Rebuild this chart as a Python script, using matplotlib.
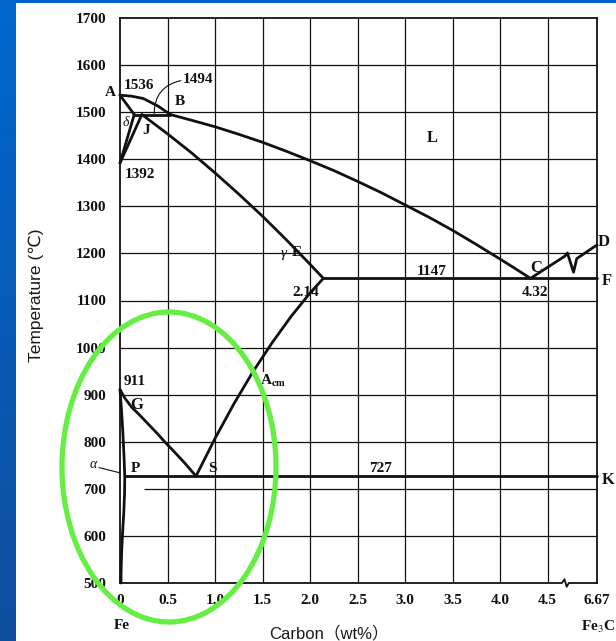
import numpy as np
import matplotlib
matplotlib.use("Agg")
import matplotlib.pyplot as plt
from matplotlib.patches import Ellipse, Rectangle

plt.rcParams["mathtext.fontset"] = "stix"

# ---------------- data ----------------
x_ticks = [0, 0.5, 1.0, 1.5, 2.0, 2.5, 3.0, 3.5, 4.0, 4.5, 6.67]
x_tick_labels = ["0", "0.5", "1.0", "1.5", "2.0", "2.5", "3.0", "3.5", "4.0", "4.5", "6.67"]
y_ticks = [500, 600, 700, 800, 900, 1000, 1100, 1200, 1300, 1400, 1500, 1600, 1700]

# liquidus A-B and B-C
liq_ab_x = [0, 0.12, 0.245, 0.4, 0.53]
liq_ab_t = [1536, 1534, 1529, 1513, 1495]
liq_bc_x = [0.53, 0.75, 1.0, 1.25, 1.5, 1.75, 2.0, 2.25, 2.5, 2.75, 3.0, 3.25,
            3.5, 3.75, 4.0, 4.15, 4.32]
liq_bc_t = [1495, 1483, 1469, 1453, 1436, 1417, 1397, 1376, 1353, 1329, 1303, 1277,
            1249, 1219, 1188, 1169, 1147]
# C-D (with break symbol)
cd_x = [4.32, 5.25, 5.37, 5.64, 5.78, 6.67]
cd_t = [1147, 1194, 1201, 1160, 1189, 1218]
# delta region
ah_x, ah_t = [0, 0.15], [1536, 1495]
hjb_x, hjb_t = [0.15, 0.53], [1495, 1495]
nh_x, nh_t = [0, 0.15], [1392, 1495]
nj_x, nj_t = [0, 0.23], [1392, 1495]
# solidus J-E
je_x = [0.23, 0.5, 0.75, 1.0, 1.25, 1.5, 1.75, 2.0, 2.14]
je_t = [1495, 1454, 1414, 1371, 1326, 1279, 1229, 1177, 1147]
# eutectic line E-C-F
ecf_x, ecf_t = [2.14, 6.67], [1147, 1147]
# G-S and E-S (Acm)
gs_x = [0, 0.05, 0.12, 0.21, 0.3, 0.39, 0.47, 0.56, 0.68, 0.8]
gs_t = [911, 893, 874, 856, 837, 818, 800, 781, 755, 727]
es_x = [0.8, 1.0, 1.2, 1.4, 1.6, 1.8, 2.0, 2.14]
es_t = [727, 807, 881, 949, 1010, 1066, 1116, 1147]
# G-P-Q
gpq_x = [0, 0.015, 0.03, 0.042, 0.05, 0.048, 0.04, 0.028, 0.018, 0.012, 0.01]
gpq_t = [911, 870, 820, 770, 727, 690, 650, 610, 570, 530, 500]
# eutectoid line P-S-K
psk_x, psk_t = [0.05, 6.67], [727, 727]
# bottom axis break
brk_x = [0, 5.13, 5.24, 5.34, 5.43, 6.67]
brk_t = [500, 500, 508, 492, 500, 500]

grid_x = [0.5, 1.0, 1.5, 2.0, 2.5, 3.0, 3.5, 4.0, 4.5]
grid_t = [600, 800, 900, 1000, 1100, 1200, 1300, 1400, 1500, 1600]
grid_700_start = 0.25

BREAK_AT = 4.5
BREAK_FACTOR = 0.2396


def fwd(x):
    x = np.asarray(x, dtype=float)
    return np.where(x <= BREAK_AT, x, BREAK_AT + (x - BREAK_AT) * BREAK_FACTOR)


def inv(s):
    s = np.asarray(s, dtype=float)
    return np.where(s <= BREAK_AT, s, BREAK_AT + (s - BREAK_AT) / BREAK_FACTOR)


W, H = 616, 641
fig = plt.figure(figsize=(W / 100, H / 100), dpi=100)
fig.patch.set_facecolor("#0066cc")

# white slide panel
fig.add_artist(Rectangle((16 / W, 0), 1 - 16 / W, 1 - 3 / H, transform=fig.transFigure,
                         facecolor="white", edgecolor="none", zorder=-10))
# left blue strip with gradient
sax = fig.add_axes([0, 0, 16 / W, 1])
top = np.array([0, 104, 206]) / 255
bot = np.array([14, 78, 158]) / 255
g = np.linspace(0, 1, 200)[:, None]
grad = (top[None, :] * (1 - g) + bot[None, :] * g)[:, None, :]
sax.imshow(grad, aspect="auto", extent=[0, 1, 0, 1])
sax.axis("off")

ax = fig.add_axes([120 / W, (H - 583) / H, 477 / W, 565 / H])
ax.set_xscale("function", functions=(fwd, inv))
ax.set_xlim(0, 6.67)
ax.set_ylim(500, 1700)
ax.set_facecolor("none")

serif = "Liberation Serif"
LW = 2.0
GW = 0.9
ink = "#111111"

# grid
ax.vlines(grid_x, 500, 1700, colors=ink, lw=GW, zorder=1)
ax.hlines(grid_t, 0, 6.67, colors=ink, lw=GW, zorder=1)
ax.hlines([700], grid_700_start, 6.67, colors=ink, lw=GW, zorder=1)

# spines
for side in ["left", "right", "top"]:
    ax.spines[side].set_linewidth(1.3)
    ax.spines[side].set_color(ink)
ax.spines["bottom"].set_visible(False)
ax.plot(brk_x, brk_t, color=ink, lw=1.3, clip_on=False, zorder=3)

# phase boundaries
for xs, ts in [(liq_ab_x, liq_ab_t), (liq_bc_x, liq_bc_t), (cd_x, cd_t),
               (ah_x, ah_t), (hjb_x, hjb_t), (nh_x, nh_t), (nj_x, nj_t),
               (je_x, je_t), (ecf_x, ecf_t), (gs_x, gs_t), (es_x, es_t),
               (gpq_x, gpq_t), (psk_x, psk_t)]:
    ax.plot(xs, ts, color=ink, lw=LW, solid_joinstyle="round", solid_capstyle="round",
            zorder=4, clip_on=False)

# ticks
ax.set_xticks(x_ticks)
ax.set_xticklabels(x_tick_labels)
ax.set_yticks(y_ticks)
ax.set_yticklabels([str(t) for t in y_ticks])
ax.tick_params(axis="both", length=0)
ax.tick_params(axis="x", pad=8)
ax.tick_params(axis="y", pad=10)
for lab in ax.get_xticklabels() + ax.get_yticklabels():
    lab.set_fontfamily(serif)
    lab.set_fontweight("bold")
    lab.set_fontsize(11)
    lab.set_color(ink)


def label(x, t, s, **kw):
    opts = dict(ha="center", va="center", fontsize=11, family=serif,
                fontweight="bold", color=ink, clip_on=False, zorder=6)
    opts.update(kw)
    ax.text(x, t, s, **opts)


label(-0.105, 1541, "A")
label(0.20, 1556, "1536")
label(0.82, 1570, "1494")
label(0.63, 1522, "B")
label(0.27, 1462, "J")
label(0.06, 1477, "δ", style="italic", fontweight="normal", fontsize=10)
label(0.21, 1367, "1392")
label(3.29, 1445, "L", fontsize=12)
label(1.72, 1200, "γ", style="italic", fontweight="normal")
label(1.86, 1203, "E")
label(1.96, 1116, "2.14")
label(3.28, 1162, "1147")
label(4.38, 1169, "C", fontsize=12)
label(4.37, 1118, "4.32")
label(6.95, 1224, "D", fontsize=12)
label(7.1, 1141, "F", fontsize=12)
label(7.15, 719, "K", fontsize=12)
label(0.158, 928, "911")
label(0.18, 878, "G", fontsize=12)
label(1.47, 929, r"A$_{\mathbf{cm}}$", ha="left",
      bbox=dict(facecolor="white", edgecolor="none", pad=0.6))
label(-0.285, 752, "α", style="italic", fontweight="normal", fontsize=10)
label(0.158, 744, "P")
label(0.97, 744, "S")
label(2.74, 744, "727")
label(0.02, 410, "Fe")
label(6.7, 406, r"Fe$_3$C")

# leaders
ax.plot([-0.22, 0.0], [745, 734], color=ink, lw=0.8, clip_on=False, zorder=5)
ax.annotate("", xy=(0.36, 1497), xytext=(0.64, 1567),
            arrowprops=dict(arrowstyle="-", color=ink, lw=0.8,
                            connectionstyle="arc3,rad=0.4", shrinkA=0, shrinkB=0),
            annotation_clip=False)

# axis titles
fig.text(36 / W, 1 - 295 / H, "Temperature (℃)", rotation=90, ha="center", va="center",
         fontsize=12.5, family=["Liberation Sans", "DejaVu Sans"], color="#1a1a1a")
fig.text(329 / W, 1 - 633 / H, "Carbon（wt%）", ha="center", va="center",
         fontsize=12, family=["Liberation Sans", "Noto Sans CJK SC"], color="#1a1a1a")

# highlight ring
fig.add_artist(Ellipse((169 / W, 1 - 467 / H), 214 / W, 310 / H, transform=fig.transFigure,
                       fill=False, edgecolor="#66ee44", lw=3.8, zorder=20))

fig.savefig("out.png", dpi=100, facecolor=fig.get_facecolor())
